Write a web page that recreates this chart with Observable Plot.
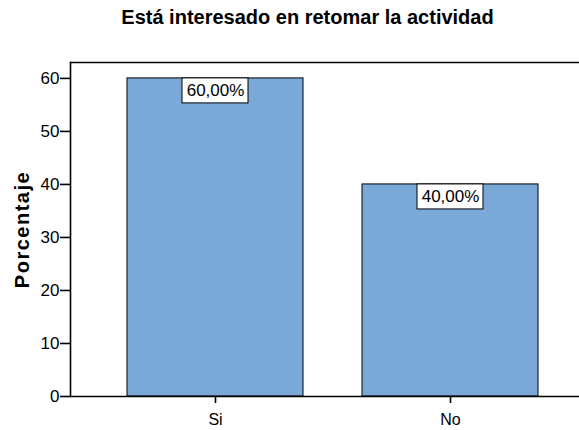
<!DOCTYPE html>
<html>
<head>
<meta charset="utf-8">
<script src="https://cdn.jsdelivr.net/npm/d3@7"></script>
<script src="https://cdn.jsdelivr.net/npm/@observablehq/plot@0.6"></script>
<style>
  body { margin: 0; background: #fff; }
  #wrap { width: 579px; height: 430px; position: relative; overflow: hidden; font-family: "Liberation Sans", Arial, sans-serif; }
  #title { position: absolute; top: 6px; left: 36px; width: 543px; text-align: center; font-weight: bold; font-size: 20px; color: #000; white-space: nowrap; }
  #chart { position: absolute; top: 40px; left: 0; }
  .ytitle text { letter-spacing: 1.5px; }
</style>
</head>
<body>
<div id="wrap">
  <div id="title">Está interesado en retomar la actividad</div>
  <div id="chart"></div>
</div>
<script>
const categories = ["Si", "No"];
const values = [60, 40];
const valueLabels = ["60,00%", "40,00%"];
const yTicks = [0, 10, 20, 30, 40, 50, 60];
const yTitle = "Porcentaje";

const data = categories.map((c, i) => ({cat: c, value: values[i], label: valueLabels[i]}));

const plot = Plot.plot({
  width: 579,
  height: 390,
  marginLeft: 70,
  marginRight: 0,
  marginTop: 22,
  marginBottom: 34,
  style: {fontFamily: "'Liberation Sans', Arial, sans-serif", background: "#fff", color: "#000"},
  x: {domain: categories, range: [70, 594], paddingInner: 0.253, paddingOuter: 0.238, align: 0.5, label: null},
  y: {domain: [0, 63], label: null},
  marks: [
    Plot.barY(data, {x: "cat", y: "value", fill: "#7AA9D7", stroke: "#000", strokeWidth: 1}),
    Plot.ruleY([63], {stroke: "#000", strokeWidth: 1.6}),
    Plot.ruleY([0], {stroke: "#000", strokeWidth: 1.6}),
    Plot.frame({anchor: "left", stroke: "#000", strokeWidth: 1.6}),
    Plot.axisY(yTicks, {tickSize: 10, tickPadding: 1, fontSize: 17, label: null, strokeWidth: 1.6}),
    Plot.axisX({tickSize: 7, tickPadding: 10, fontSize: 16, label: null, strokeWidth: 1.6}),
    Plot.barY(data, {x: "cat", y1: "value", y2: "value", insetLeft: 55, insetRight: 55, insetBottom: -25, fill: "#fff", stroke: "#000", strokeWidth: 1}),
    Plot.text(data, {x: "cat", y: "value", text: "label", dy: 12.5, fontSize: 17, fill: "#000"}),
    Plot.text([yTitle], {frameAnchor: "left", textAnchor: "middle", rotate: -90, dx: -48, dy: 0, fontSize: 20, fontWeight: "bold", fill: "#000", className: "ytitle"})
  ]
});
document.getElementById("chart").appendChild(plot);
</script>
</body>
</html>
